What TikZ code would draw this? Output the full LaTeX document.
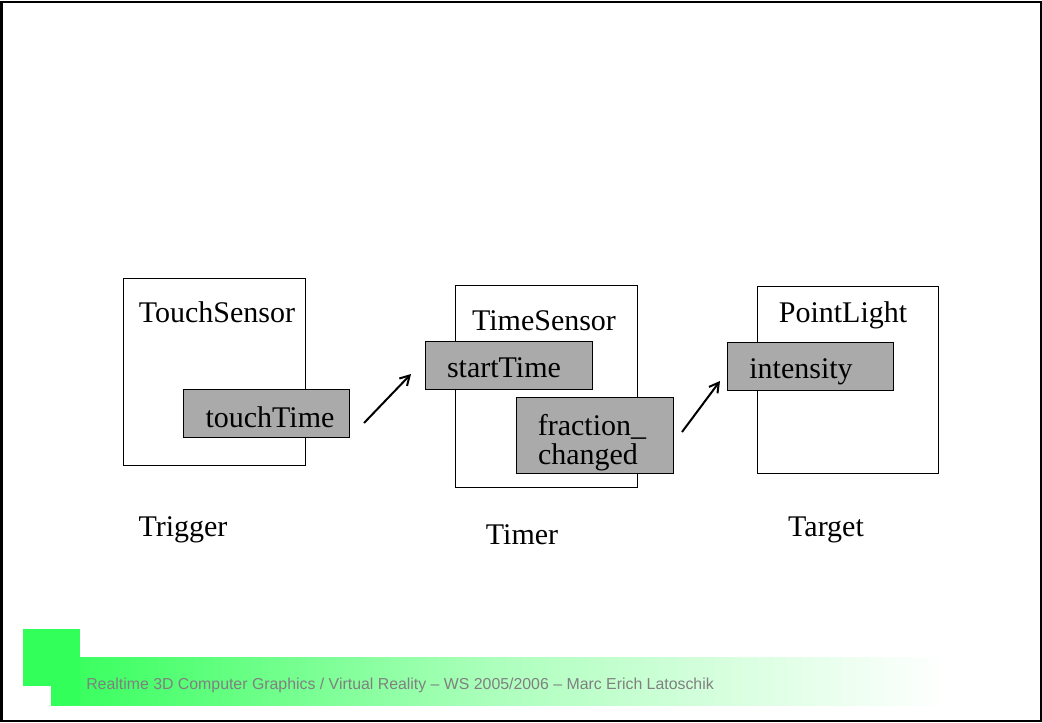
\documentclass[tikz,border=0pt]{standalone}
\usepackage{fontspec}
\setmainfont{Liberation Serif}
\newfontfamily\footfont{Liberation Sans}
\usetikzlibrary{arrows.meta}
\definecolor{boxgray}{RGB}{170,170,170}
\definecolor{bargreen}{RGB}{51,255,90}
\definecolor{foottext}{RGB}{128,128,128}
\tikzset{
  gbox/.style={draw=black, line width=0.75pt, fill=boxgray},
  nodebox/.style={draw=black, line width=0.75pt, fill=white, inner sep=0pt},
  txt/.style={anchor=base, inner sep=0pt, font=\fontsize{22.5}{27}\selectfont},
  flow/.style={line width=1.5pt, -{Straight Barb[length=7pt,width=8pt]}},
}
\begin{document}
\begin{tikzpicture}[x=0.75pt,y=-0.75pt]
\useasboundingbox (0,0) rectangle (1042,722);
\fill[white] (0,0) rectangle (1042,722);
\draw[line width=1.5pt] (1.5,1.5) rectangle (1040.5,720.5);
% footer
\shade[left color=bargreen, right color=white, middle color=bargreen!40] (51,657) rectangle (947,705);
\fill[bargreen] (23,629) rectangle (80,686);
\fill[bargreen] (51,657) rectangle (80,705);
\node[anchor=base west, inner sep=0pt, text=foottext, font=\footfont\fontsize{11.9}{14}\selectfont] (foot) at (86,689) {Realtime 3D Computer Graphics / Virtual Reality – WS 2005/2006 – Marc Erich Latoschik};
% node boxes
\node[nodebox, minimum width=136.5pt, minimum height=140.25pt] (ts) at (214,371.5) {};
\node[nodebox, minimum width=136.5pt, minimum height=151.5pt] (tm) at (546,386) {};
\node[nodebox, minimum width=135.75pt, minimum height=140.25pt] (pl) at (847.5,379.5) {};
% field boxes
\node[gbox, minimum width=124.5pt, minimum height=36pt] (touch) at (266,413) {};
\node[gbox, minimum width=125.25pt, minimum height=36pt] (start) at (508.5,365) {};
\node[gbox, minimum width=117.75pt, minimum height=57pt] (frac) at (594.5,435) {};
\node[gbox, minimum width=124.5pt, minimum height=36pt] (inten) at (810,366) {};
% texts
\node[txt] (tst) at (217,322) {TouchSensor};
\node[txt] (tmt) at (544,330) {TimeSensor};
\node[txt] (plt) at (843,322) {PointLight};
\node[txt] (toucht) at (270,427) {touchTime};
\node[txt] (startt) at (504,377) {startTime};
\node[txt] (fract) at (592,435) {fraction\_};
\node[txt] (changt) at (588,464) {changed};
\node[txt] (intent) at (801,378) {intensity};
\node[txt] (trig) at (183,536) {Trigger};
\node[txt] (timer) at (522,544) {Timer};
\node[txt] (targ) at (826,536) {Target};
% arrows
\coordinate (a1s) at (364,423);
\coordinate (a1e) at (411,374);
\coordinate (a2s) at (682,432);
\coordinate (a2e) at (720,381);
\draw[flow] (a1s) -- (a1e);
\draw[flow] (a2s) -- (a2e);
\end{tikzpicture}
\end{document}
